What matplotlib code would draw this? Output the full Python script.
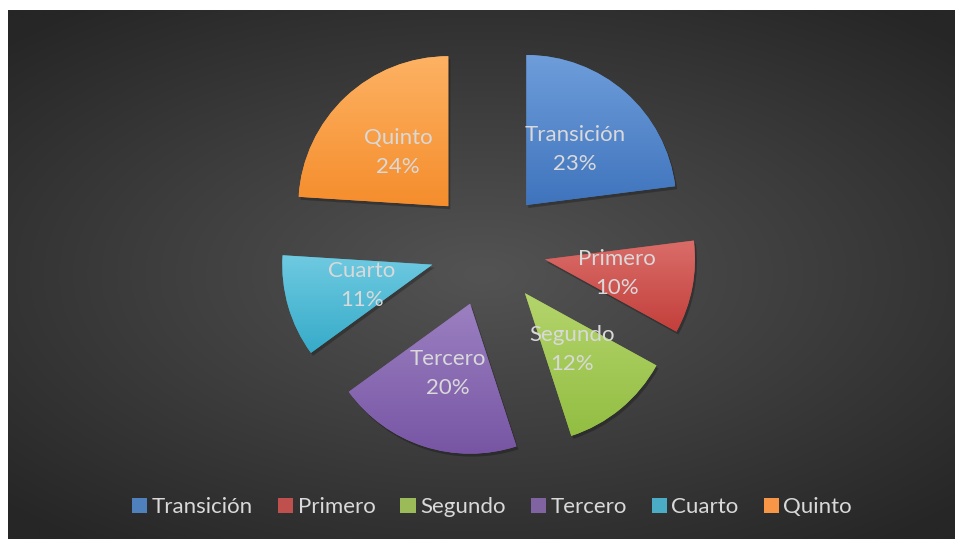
import numpy as np
import matplotlib.pyplot as plt
from matplotlib.colors import LinearSegmentedColormap
from matplotlib.patches import Wedge

# data
categories = ['Transición', 'Primero', 'Segundo', 'Tercero', 'Cuarto', 'Quinto']
values = [23, 10, 12, 20, 11, 24]

# base colour plus light (top) / dark (bottom) gradient ends for each slice
base_colors = ['#4f81bd', '#c0504d', '#9bbb59', '#8064a2', '#4bacc6', '#f79646']
top_colors = ['#6e9dda', '#da6d69', '#b4d46c', '#9b80c1', '#6fcae1', '#fdb263']
bottom_colors = ['#3f74bd', '#c33f3b', '#92be42', '#7755a4', '#36abc9', '#f58d2c']

text_color = '#d9d9d9'
W, H = 955, 539

plt.rcParams['font.family'] = ['Lato', 'DejaVu Sans']

fig = plt.figure(figsize=(W / 100, H / 100), dpi=100, facecolor='white')

# dark radial background (leaves a thin white strip top and left)
bg = fig.add_axes([8 / W, 0, (W - 8) / W, (H - 10) / H])
yy, xx = np.mgrid[-1:1:300j, -1:1:500j]
dist = np.sqrt((xx / 1.05) ** 2 + (yy / 0.95) ** 2)
dist = np.clip(dist / 1.35, 0, 1)
bg_cmap = LinearSegmentedColormap.from_list('bg', ['#535353', '#3d3d3d', '#262626'])
bg.imshow(dist, cmap=bg_cmap, aspect='auto', extent=[0, 1, 0, 1], interpolation='bilinear')
bg.set_axis_off()

# pie axes in pixel units
ax = fig.add_axes([0, 0, 1, 1])
ax.patch.set_alpha(0)

center = (488, H - 248.5)
radius = 150
explode = [58] * len(values)

wedges, texts = ax.pie(values, colors=base_colors, startangle=90, counterclock=False,
                       explode=explode, center=center, radius=radius,
                       wedgeprops=dict(linewidth=0))

# shadow + vertical gradient clipped to each wedge
grad = np.linspace(0, 1, 256).reshape(-1, 1)
for i, w in enumerate(wedges):
    cx, cy = w.center
    sh = Wedge((cx + 2, cy - 3), w.r, w.theta1, w.theta2,
               facecolor='black', alpha=0.25, linewidth=0, zorder=0.5)
    ax.add_patch(sh)
    w.set_zorder(1)
    ext = w.get_path().get_extents(w.get_patch_transform())
    cmap = LinearSegmentedColormap.from_list('g%d' % i, [top_colors[i], bottom_colors[i]])
    im = ax.imshow(grad, cmap=cmap, aspect='auto', origin='upper',
                   extent=[ext.x0, ext.x1, ext.y0, ext.y1], zorder=2, interpolation='bilinear')
    im.set_clip_path(w)

# labels inside slices
total = sum(values)
for i, w in enumerate(wedges):
    thetam = np.deg2rad((w.theta1 + w.theta2) / 2)
    cx, cy = w.center
    x = cx + 0.49 * radius * np.cos(thetam)
    y = cy + 0.49 * radius * np.sin(thetam)
    pct = round(values[i] / total * 100)
    ax.text(x, y, '%s\n%d%%' % (categories[i], pct), ha='center', va='center',
            color=text_color, fontsize=16, linespacing=1.55, zorder=5)

ax.set_xlim(0, W)
ax.set_ylim(0, H)
ax.set_aspect('equal')
ax.set_axis_off()

leg = ax.legend(wedges, categories, loc='center', bbox_to_anchor=(492 / W, 1 - 507 / H),
                bbox_transform=fig.transFigure, ncol=6, frameon=False,
                handlelength=0.68, handleheight=0.68, handletextpad=0.2,
                columnspacing=1.13, fontsize=16)
for t in leg.get_texts():
    t.set_color(text_color)

fig.savefig('out.png', dpi=100, facecolor='white')
